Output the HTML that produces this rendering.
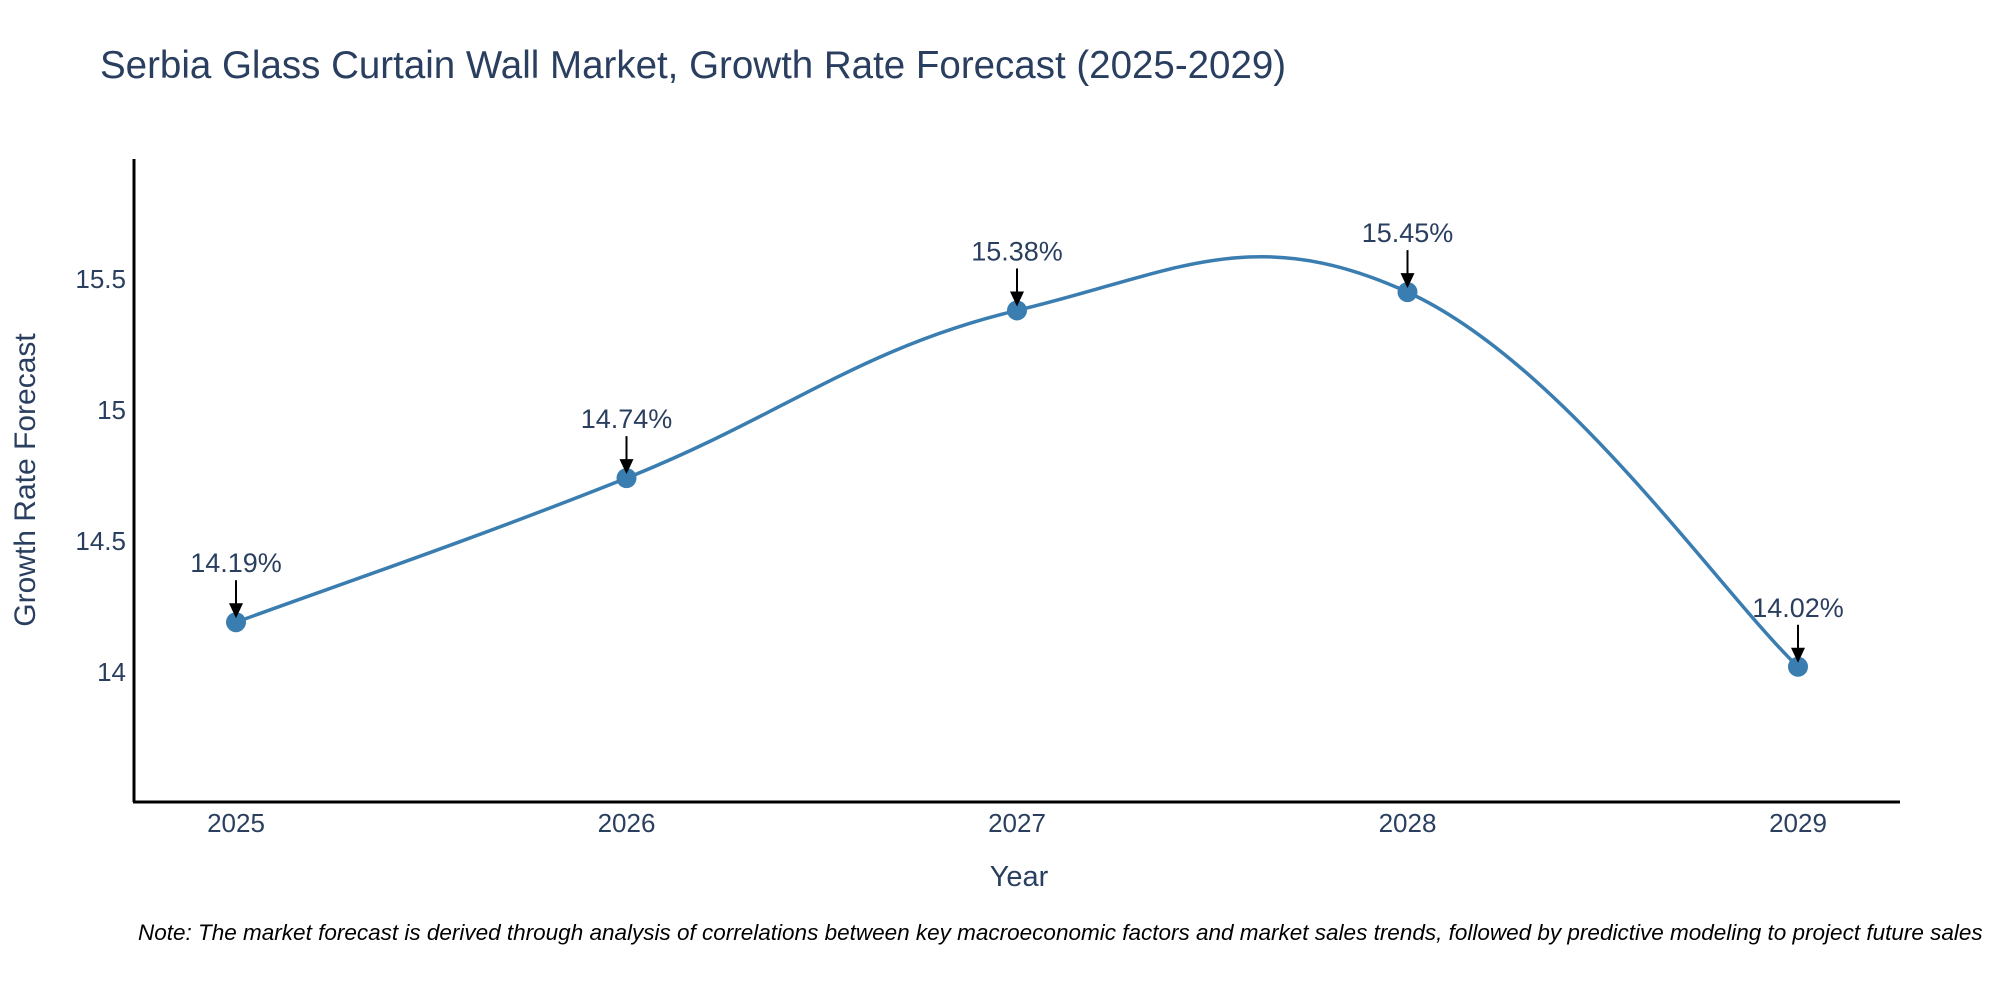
<!DOCTYPE html>
<html><head><meta charset="utf-8"><style>
html,body{margin:0;padding:0;background:#fff;}
svg{display:block;font-family:"Liberation Sans",sans-serif;}
</style></head><body>
<svg id="chart" width="2000" height="1000" xmlns="http://www.w3.org/2000/svg">
<text x="100" y="78" font-size="38.5" fill="#2a3f5f">Serbia Glass Curtain Wall Market, Growth Rate Forecast (2025-2029)</text>
<g id="yticks"></g>
<g id="xticks"></g>
<path id="line" fill="none" stroke="#3a7db0" stroke-width="3.5"></path>
<g id="marks"></g>
<g id="anns"></g>
<line x1="134" y1="159" x2="134" y2="802" stroke="#000" stroke-width="3"/>
<line x1="133" y1="802" x2="1900" y2="802" stroke="#000" stroke-width="3"/>
<text x="1019" y="886" font-size="29" fill="#2a3f5f" text-anchor="middle">Year</text>
<text transform="translate(35,480) rotate(-90)" font-size="30" fill="#2a3f5f" text-anchor="middle">Growth Rate Forecast</text>
<text x="138" y="940" font-size="22.5" font-style="italic" fill="#000">Note: The market forecast is derived through analysis of correlations between key macroeconomic factors and market sales trends, followed by predictive modeling to project future sales</text>
</svg>
<script>
const years = [2025, 2026, 2027, 2028, 2029];
const values = [14.19, 14.74, 15.38, 15.45, 14.02];
const labels = ["14.19%", "14.74%", "15.38%", "15.45%", "14.02%"];
const yTicks = [14, 14.5, 15, 15.5];
const yTickLabels = ["14", "14.5", "15", "15.5"];

const NS = "http://www.w3.org/2000/svg";
function X(v){ return 236 + (v - 2025) * 390.5; }
function Y(v){ return 672 - (v - 14) * 262; }
function mk(tag, attrs, parent){ const e = document.createElementNS(NS, tag); for (const k in attrs) e.setAttribute(k, attrs[k]); parent.appendChild(e); return e; }

const yt = document.getElementById('yticks');
yTicks.forEach((t, i) => {
  const e = mk('text', {x: 126, y: Y(t) + 9, 'font-size': 26, fill: '#2a3f5f', 'text-anchor': 'end'}, yt);
  e.textContent = yTickLabels[i];
  
  
});
const xt = document.getElementById('xticks');
years.forEach(yr => {
  const e = mk('text', {x: X(yr), y: 832, 'font-size': 26, fill: '#2a3f5f', 'text-anchor': 'middle'}, xt);
  e.textContent = String(yr);
  
  
});

const pts = years.map((yr, i) => [X(yr), Y(values[i])]);
let d = 'M' + pts[0][0] + ',' + pts[0][1];
const t = 1.2;
for (let i = 0; i < pts.length - 1; i++) {
  const p0 = pts[Math.max(0, i - 1)], p1 = pts[i], p2 = pts[i + 1], p3 = pts[Math.min(pts.length - 1, i + 2)];
  const c1 = [p1[0] + (p2[0] - p0[0]) / 6 * t, p1[1] + (p2[1] - p0[1]) / 6 * t];
  const c2 = [p2[0] - (p3[0] - p1[0]) / 6 * t, p2[1] - (p3[1] - p1[1]) / 6 * t];
  d += ' C' + c1.join(',') + ' ' + c2.join(',') + ' ' + p2.join(',');
}
document.getElementById('line').setAttribute('d', d);

const mg = document.getElementById('marks');
const ag = document.getElementById('anns');
pts.forEach((p, i) => {
  const c = mk('circle', {cx: p[0], cy: p[1], r: 10, fill: '#3a7db0'}, mg);
  
  
  const l = mk('line', {x1: p[0], y1: p[1] - 42, x2: p[0], y2: p[1] - 18, stroke: '#000', 'stroke-width': 2}, ag);
  
  
  const h = mk('polygon', {points: (p[0] - 7) + ',' + (p[1] - 19) + ' ' + (p[0] + 7) + ',' + (p[1] - 19) + ' ' + p[0] + ',' + (p[1] - 4), fill: '#000'}, ag);
  
  
  const tx = mk('text', {x: p[0], y: p[1] - 50, 'font-size': 27, fill: '#2a3f5f', 'text-anchor': 'middle'}, ag);
  tx.textContent = labels[i];
  
  
});
</script>
</body></html>
